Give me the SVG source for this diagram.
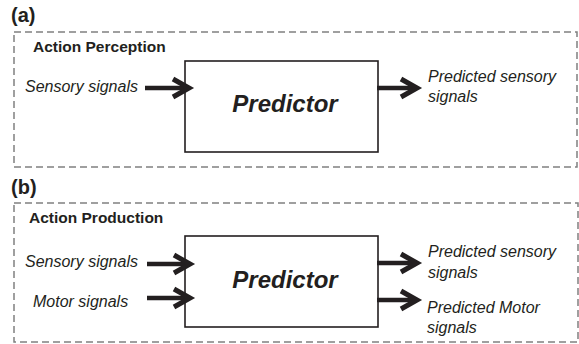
<svg xmlns="http://www.w3.org/2000/svg" width="579" height="344" viewBox="0 0 579 344">
<style>
.panel{fill:none;stroke:#808080;stroke-width:1.5;stroke-dasharray:7 4}
.box{fill:#fff;stroke:#231f20;stroke-width:1.6}
.lbl{font-family:"Liberation Sans",Arial,sans-serif;font-size:20px;font-weight:bold;fill:#231f20}
.title{font-family:"Liberation Sans",Arial,sans-serif;font-size:15.5px;font-weight:bold;fill:#231f20}
.pred{font-family:"Liberation Sans",Arial,sans-serif;font-size:24px;font-weight:bold;font-style:italic;fill:#231f20}
.sig{font-family:"Liberation Sans",Arial,sans-serif;font-size:16px;font-style:italic;fill:#231f20}
.arr{fill:none;stroke:#231f20;stroke-width:4.5}
.head{fill:none;stroke:#231f20;stroke-width:5;stroke-linejoin:miter;stroke-miterlimit:6}
</style>
<text class="lbl" x="11" y="22">(a)</text>
<g id="panelA">
<rect class="panel" x="14" y="32" width="563" height="135"/>
<text class="title" x="33" y="52">Action Perception</text>
</g>
<g id="predictorA">
<rect class="box" x="185" y="61" width="193" height="91"/>
<text class="pred" x="285" y="112" text-anchor="middle">Predictor</text>
</g>
<g id="inA"><text class="sig" x="25" y="92">Sensory signals</text></g>
<g id="outA"><text class="sig" x="428" y="82">Predicted sensory</text><text class="sig" x="428" y="102">signals</text></g>
<text class="lbl" x="11" y="194">(b)</text>
<g id="panelB">
<rect class="panel" x="14" y="203" width="564" height="139"/>
<text class="title" x="29" y="223">Action Production</text>
</g>
<g id="predictorB">
<rect class="box" x="185" y="236" width="193" height="91"/>
<text class="pred" x="285" y="288" text-anchor="middle">Predictor</text>
</g>
<g id="inB1"><text class="sig" x="25" y="267">Sensory signals</text></g>
<g id="inB2"><text class="sig" x="33" y="307">Motor signals</text></g>
<g id="outB1"><text class="sig" x="428" y="257">Predicted sensory</text><text class="sig" x="428" y="278">signals</text></g>
<g id="outB2"><text class="sig" x="427" y="313">Predicted Motor</text><text class="sig" x="427" y="333">signals</text></g>
<g id="connectors">
<line class="arr" x1="145" y1="88" x2="186" y2="88"/><polyline class="head" points="173,79 189,88 173,97"/>
<line class="arr" x1="377" y1="88" x2="414" y2="88"/><polyline class="head" points="401,79 417,88 401,97"/>
<line class="arr" x1="147" y1="264" x2="187" y2="264"/><polyline class="head" points="174,255 190,264 174,273"/>
<line class="arr" x1="147" y1="298" x2="187" y2="298"/><polyline class="head" points="174,289 190,298 174,307"/>
<line class="arr" x1="377" y1="263" x2="414" y2="263"/><polyline class="head" points="401,254 417,263 401,272"/>
<line class="arr" x1="377" y1="300" x2="414" y2="300"/><polyline class="head" points="401,291 417,300 401,309"/>
</g>
</svg>
